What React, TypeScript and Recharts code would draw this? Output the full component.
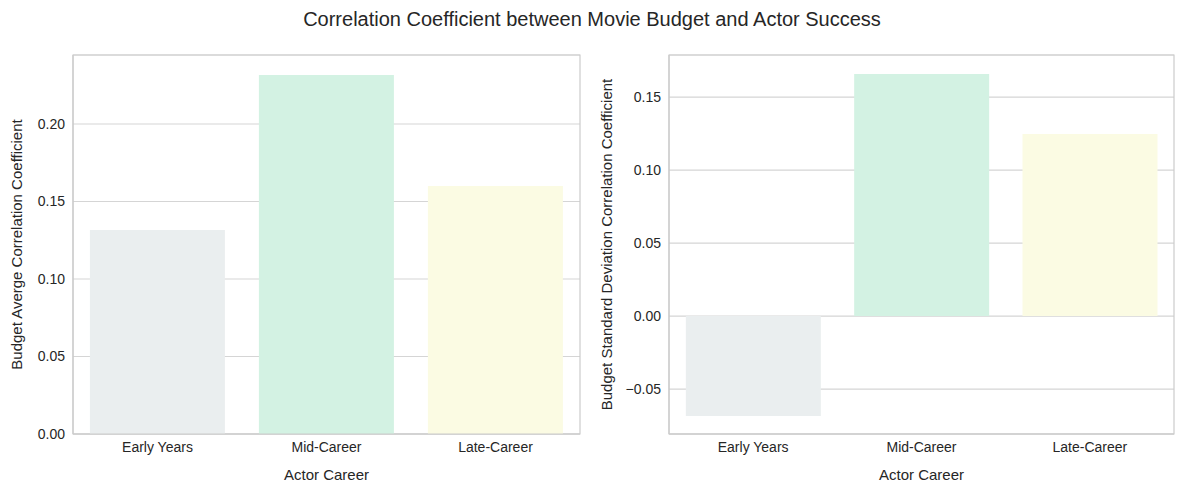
import React from 'react';
import { BarChart, Bar, XAxis, YAxis, CartesianGrid, Cell, ReferenceArea } from 'recharts';

const careers = ['Early Years', 'Mid-Career', 'Late-Career'];
const avgCorr = [0.1316, 0.2316, 0.160];
const stdCorr = [-0.0685, 0.1658, 0.1247];
const colors = ['#eaeeef', '#d3f2e3', '#fbfbe3'];
const leftTicks = [0, 0.05, 0.1, 0.15, 0.2];
const rightTicks = [-0.05, 0, 0.05, 0.1, 0.15];

const FONT = 'Arial, "Liberation Sans", sans-serif';
const fmt = (v: number) => (v < 0 ? '\u2212' : '') + Math.abs(v).toFixed(2);

const Panel: React.FC<{
  values: number[];
  ticks: number[];
  domain: [number, number];
  yLabel: string;
  yWidth: number;
  width: number;
}> = ({ values, ticks, domain, yLabel, yWidth, width }) => {
  const data = careers.map((c, i) => ({ name: c, value: values[i] }));
  const tick = { fill: '#262626', fontSize: 14, fontFamily: FONT };
  const border = { stroke: '#cccccc', strokeWidth: 1.2 };
  return (
    <BarChart width={width} height={492} data={data} barCategoryGap="10%"
      margin={{ top: 55, right: 10, left: 10, bottom: 18 }}>
      <CartesianGrid vertical={false} stroke="#d5d5d5" strokeWidth={1.2} />
      <XAxis dataKey="name" height={40} axisLine={border} tickLine={false} tick={tick}
        label={{ value: 'Actor Career', position: 'insideBottom', offset: -6, fill: '#262626', fontSize: 15, fontFamily: FONT }} />
      <YAxis domain={domain} ticks={ticks} width={yWidth} axisLine={border} tickLine={false}
        tick={tick} tickFormatter={fmt} allowDataOverflow
        label={{ value: yLabel, angle: -90, position: 'insideLeft', offset: 7, style: { textAnchor: 'middle' }, fill: '#262626', fontSize: 15, fontFamily: FONT }} />
      <Bar dataKey="value" isAnimationActive={false}>
        {data.map((_, i) => <Cell key={i} fill={colors[i]} />)}
      </Bar>
      <ReferenceArea y1={domain[0]} y2={domain[1]} fill="none" fillOpacity={0} stroke="#cccccc" strokeWidth={1.2} ifOverflow="visible" />
    </BarChart>
  );
};

export default function App() {
  return (
    <div style={{ position: 'absolute', left: 0, top: 0, width: 1184, height: 492, background: '#fff', fontFamily: FONT }}>
      <div style={{ position: 'absolute', top: 8, width: 1184, textAlign: 'center', fontSize: 20, color: '#262626' }}>
        Correlation Coefficient between Movie Budget and Actor Success
      </div>
      <div style={{ position: 'absolute', left: 0, top: 0 }}>
        <Panel values={avgCorr} ticks={leftTicks} domain={[0, 0.2445]} yLabel="Budget Averge Correlation Coefficient" yWidth={63} width={590} />
      </div>
      <div style={{ position: 'absolute', left: 590, top: 0 }}>
        <Panel values={stdCorr} ticks={rightTicks} domain={[-0.0808, 0.1788]} yLabel="Budget Standard Deviation Correlation Coefficient" yWidth={69} width={594} />
      </div>
    </div>
  );
}
